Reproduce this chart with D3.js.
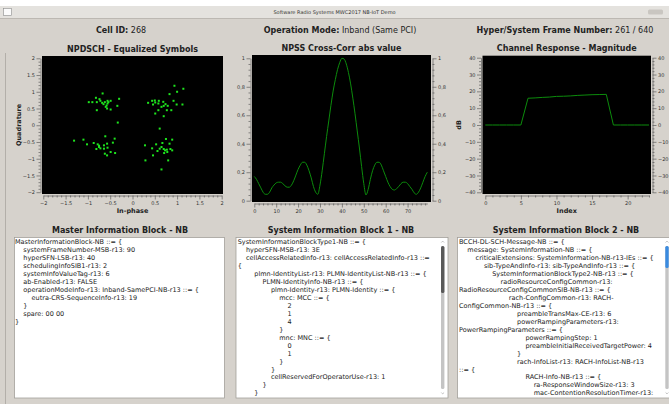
<!DOCTYPE html>
<html>
<head>
<meta charset="utf-8">
<script src="https://cdn.jsdelivr.net/npm/d3@7"></script>
<style>
body{margin:0;background:#d6d2cc;overflow:hidden;}
svg{display:block;font-family:"DejaVu Sans",sans-serif;}
</style>
</head>
<body>
<script>
// equalized NPDSCH symbols (in-phase / quadrature)
const symI = [-0.67,-0.82,-0.74,-0.98,-0.90,-0.80,-0.72,-0.68,-0.62,-0.56,-0.54,-0.49,-0.56,-0.58,-0.60,-0.57,-0.49,-0.30,-0.34,-0.80,-0.65,-0.33,
  0.94,1.14,1.00,0.83,0.35,0.44,0.50,0.51,0.59,0.58,0.69,0.74,0.79,0.70,0.92,0.99,1.12,0.65,0.51,0.58,0.77,0.87,0.70,0.46,0.61,
  -1.31,-1.10,-1.02,-0.87,-0.78,-0.75,-0.72,-0.81,-0.75,-0.61,-0.64,-0.57,-0.56,-0.40,-0.44,-0.49,-0.39,-0.62,-0.57,-0.64,
  0.28,0.44,0.53,0.46,0.29,0.67,0.75,0.89,0.83,0.61,0.65,0.70,0.73,0.77,0.85,0.89,0.78,0.71,0.80,0.65,0.56];
const symQ = [0.95,0.82,0.78,0.69,0.69,0.69,0.73,0.67,0.69,0.73,0.69,0.73,0.65,0.59,0.55,0.50,0.47,0.79,0.58,0.45,0.63,0.08,
  1.18,1.09,1.00,0.93,0.67,0.73,0.74,0.68,0.73,0.65,0.70,0.63,0.58,0.58,0.73,0.62,0.62,0.55,0.35,0.45,0.45,0.45,0.27,0.62,-0.10,
  -0.46,-0.43,-0.57,-0.53,-0.57,-0.61,-0.69,-0.71,-0.65,-0.33,-0.60,-0.55,-0.67,-0.40,-0.52,-0.80,-0.83,-0.85,-0.90,-0.70,
  -0.60,-0.69,-0.57,-0.90,-1.05,-0.53,-0.41,-0.43,-0.55,-0.70,-0.65,-0.71,-0.75,-0.73,-0.71,-0.75,-0.80,-0.83,-1.05,-1.32,-0.77];

// NPSS cross-correlation, one value per lag 0..79
const npssCorr = [0.17,0.15,0.12,0.09,0.06,0.045,0.045,0.06,0.09,0.11,
  0.125,0.13,0.13,0.12,0.105,0.095,0.095,0.11,0.14,0.18,
  0.22,0.25,0.27,0.27,0.25,0.21,0.16,0.10,0.06,0.045,
  0.11,0.21,0.33,0.45,0.56,0.67,0.77,0.85,0.92,0.97,
  1.0,0.995,0.96,0.90,0.82,0.72,0.61,0.49,0.37,0.24,
  0.12,0.04,0.08,0.15,0.21,0.25,0.27,0.27,0.25,0.21,
  0.17,0.13,0.10,0.08,0.075,0.085,0.10,0.12,0.13,0.13,
  0.12,0.10,0.08,0.055,0.045,0.06,0.09,0.13,0.17,0.20];

// channel magnitude in dB, per subcarrier index 0..23
const chanMag = [0,0,0,0,0,0,15.9,16.1,16.4,16.6,17.0,17.1,17.3,17.6,17.8,18.0,18.1,18.2,0,0,0,0,0,0];

const iqTicks = [-2,-1.5,-1,-0.5,0,0.5,1,1.5,2];
const corrYTicks = [0,0.2,0.4,0.6,0.8,1];
const corrXTicks = [0,10,20,30,40,50,60,70];
const magYTicks = [-40,-30,-20,-10,0,10,20,30,40];
const magXTicks = [0,5,10,15,20];

const headerBold = ["Cell ID:", "Operation Mode:", "Hyper/System Frame Number:"];
const headerValue = ["268", "Inband (Same PCI)", "261 / 640"];

const mibLines = [
  [0,"MasterInformationBlock-NB ::= {"],
  [1,"systemFrameNumber-MSB-r13: 90"],
  [1,"hyperSFN-LSB-r13: 40"],
  [1,"schedulingInfoSIB1-r13: 2"],
  [1,"systemInfoValueTag-r13: 6"],
  [1,"ab-Enabled-r13: FALSE"],
  [1,"operationModeInfo-r13: Inband-SamePCI-NB-r13 ::= {"],
  [2,"eutra-CRS-SequenceInfo-r13: 19"],
  [1,"}"],
  [1,"spare: 00 00"],
  [0,"}"]
];
const sib1Lines = [
  [0,"SystemInformationBlockType1-NB ::= {"],
  [1,"hyperSFN-MSB-r13: 3E"],
  [1,"cellAccessRelatedInfo-r13: cellAccessRelatedInfo-r13 ::="],
  [0,"{"],
  [2,"plmn-IdentityList-r13: PLMN-IdentityList-NB-r13 ::= {"],
  [3,"PLMN-IdentityInfo-NB-r13 ::= {"],
  [4,"plmn-Identity-r13: PLMN-Identity ::= {"],
  [5,"mcc: MCC ::= {"],
  [6,"2"],[6,"1"],[6,"4"],
  [5,"}"],
  [5,"mnc: MNC ::= {"],
  [6,"0"],[6,"1"],
  [5,"}"],
  [4,"}"],
  [4,"cellReservedForOperatorUse-r13: 1"],
  [3,"}"],
  [2,"}"]
];
const sib2Lines = [
  [0,"BCCH-DL-SCH-Message-NB ::= {"],
  [1,"message: SystemInformation-NB ::= {"],
  [2,"criticalExtensions: SystemInformation-NB-r13-IEs ::= {"],
  [3,"sib-TypeAndInfo-r13: sib-TypeAndInfo-r13 ::= {"],
  [4,"SystemInformationBlockType2-NB-r13 ::= {"],
  [5,"radioResourceConfigCommon-r13:"],
  [0,"RadioResourceConfigCommonSIB-NB-r13 ::= {"],
  [6,"rach-ConfigCommon-r13: RACH-"],
  [0,"ConfigCommon-NB-r13 ::= {"],
  [7,"preambleTransMax-CE-r13: 6"],
  [7,"powerRampingParameters-r13:"],
  [0,"PowerRampingParameters ::= {"],
  [8,"powerRampingStep: 1"],
  [8,"preambleInitialReceivedTargetPower: 4"],
  [7,"}"],
  [7,"rach-InfoList-r13: RACH-InfoList-NB-r13"],
  [0,"::= {"],
  [8,"RACH-Info-NB-r13 ::= {"],
  [9,"ra-ResponseWindowSize-r13: 3"],
  [9,"mac-ContentionResolutionTimer-r13:"]
];

const W = 669, H = 404;
const svg = d3.select("body").append("svg").attr("width", W).attr("height", H);

svg.append("rect").attr("width", W).attr("height", H).attr("fill", "#d6d2cc");

// window title bar
svg.append("rect").attr("width", W).attr("height", 6).attr("fill", "#fff");
svg.append("rect").attr("y", 6).attr("width", W).attr("height", 12).attr("fill", "#e4e2de");
svg.append("line").attr("x1", 0).attr("x2", W).attr("y1", 18.5).attr("y2", 18.5).attr("stroke", "#bcb8b2");
svg.append("rect").attr("x", 3.5).attr("y", 8.5).attr("width", 8).attr("height", 7)
  .attr("fill", "#fbfbfb").attr("stroke", "#8a8a8a").attr("stroke-width", 0.6);
svg.append("rect").attr("x", 648).attr("y", 9.5).attr("width", 15).attr("height", 5).attr("rx", 1.5)
  .attr("fill", "#c9c6c1");
svg.append("text").attr("x", 334.5).attr("y", 14).attr("text-anchor", "middle")
  .attr("font-size", 5).attr("fill", "#333").text("Software Radio Systems MWC2017 NB-IoT Demo");

// left frame edge
svg.append("line").attr("x1", 5.5).attr("x2", 5.5).attr("y1", 53).attr("y2", H).attr("stroke", "#b3afa9");

// header row
const headerX = [121, 340, 565];
headerBold.forEach((b, i) => {
  const t = svg.append("text").attr("x", headerX[i]).attr("y", 32.5).attr("text-anchor", "middle")
    .attr("font-size", 8).attr("fill", "#222");
  t.append("tspan").attr("font-weight", "bold").text(b);
  t.append("tspan").text(" " + headerValue[i]);
});

function styleAxis(sel) {
  sel.attr("font-size", 5).attr("font-family", "DejaVu Sans, sans-serif");
  sel.selectAll("path, line").attr("stroke", "#4a4a4a").attr("stroke-width", 0.6);
  sel.selectAll("text").attr("fill", "#333");
}

function minorTicks(major, step) {
  const out = [];
  for (let i = 0; i < major.length - 1; i++) {
    for (let k = 1; k < 5; k++) out.push(+(major[i] + k * step).toFixed(4));
  }
  return out;
}

function drawPlot(o) {
  const g = svg.append("g");
  g.append("rect").attr("x", o.cx0).attr("y", o.cy0)
    .attr("width", o.cx1 - o.cx0).attr("height", o.cy1 - o.cy0).attr("fill", "#000");
  g.append("text").attr("x", (o.cx0 + o.cx1) / 2).attr("y", o.cy0 - 4.5).attr("text-anchor", "middle")
    .attr("font-size", 8).attr("font-weight", "bold").attr("fill", "#222").text(o.title);

  const yMinor = o.yMinor, xMinor = o.xMinor;
  // left
  g.append("g").attr("transform", `translate(${o.cx0 - 1.5},0)`)
    .call(d3.axisLeft(o.y).tickValues(o.yTicks).tickSize(4).tickSizeOuter(0).tickPadding(1.5).tickFormat(o.yFmt))
    .call(styleAxis);
  g.append("g").attr("transform", `translate(${o.cx0 - 1.5},0)`)
    .call(d3.axisLeft(o.y).tickValues(yMinor).tickSize(2).tickSizeOuter(0).tickFormat(""))
    .call(styleAxis).select(".domain").remove();
  if (o.right) {
    g.append("g").attr("transform", `translate(${o.cx1 + 1.5},0)`)
      .call(d3.axisRight(o.y).tickValues(o.yTicks).tickSize(4).tickSizeOuter(0).tickPadding(1.5).tickFormat(o.yFmt))
      .call(styleAxis);
    g.append("g").attr("transform", `translate(${o.cx1 + 1.5},0)`)
      .call(d3.axisRight(o.y).tickValues(yMinor).tickSize(2).tickSizeOuter(0).tickFormat(""))
      .call(styleAxis).select(".domain").remove();
  }
  g.append("g").attr("transform", `translate(0,${o.cy1 + 1.5})`)
    .call(d3.axisBottom(o.x).tickValues(o.xTicks).tickSize(4).tickSizeOuter(0).tickPadding(1.5).tickFormat(o.xFmt))
    .call(styleAxis);
  g.append("g").attr("transform", `translate(0,${o.cy1 + 1.5})`)
    .call(d3.axisBottom(o.x).tickValues(xMinor).tickSize(2).tickSizeOuter(0).tickFormat(""))
    .call(styleAxis).select(".domain").remove();

  if (o.xLabel) {
    g.append("text").attr("x", (o.cx0 + o.cx1) / 2).attr("y", o.cy1 + 18.5).attr("text-anchor", "middle")
      .attr("font-size", 6.5).attr("font-weight", "bold").attr("fill", "#222").text(o.xLabel);
  }
  if (o.yLabel) {
    g.append("text").attr("transform", `translate(${o.yLabelX},${(o.cy0 + o.cy1) / 2}) rotate(-90)`)
      .attr("text-anchor", "middle").attr("dy", "0.35em")
      .attr("font-size", 6.5).attr("font-weight", "bold").attr("fill", "#222").text(o.yLabel);
  }
  return g;
}

const dot = d3.format(".1~f");
const comma = v => d3.format(".1~f")(v).replace(".", ",");

// constellation
const xIQ = d3.scaleLinear().domain([-2, 2]).range([43.3, 221.7]);
const yIQ = d3.scaleLinear().domain([-2, 2]).range([192.2, 58.3]);
const g1 = drawPlot({
  cx0: 42, cx1: 223, cy0: 56, cy1: 194, x: xIQ, y: yIQ,
  xTicks: iqTicks, yTicks: iqTicks, xMinor: minorTicks(iqTicks, 0.1), yMinor: minorTicks(iqTicks, 0.1),
  xFmt: dot, yFmt: dot, title: "NPDSCH - Equalized Symbols",
  xLabel: "In-phase", yLabel: "Quadrature", yLabelX: 19
});
g1.append("g").selectAll("rect").data(symI).join("rect")
  .attr("x", (d, i) => xIQ(d) - 1).attr("y", (d, i) => yIQ(symQ[i]) - 1)
  .attr("width", 2).attr("height", 2).attr("fill", "#1ee41e");

// NPSS cross-correlation
const xCorr = d3.scaleLinear().domain([0, 79]).range([254.3, 427.3]);
const yCorr = d3.scaleLinear().domain([0, 1]).range([200.7, 58.3]);
const g2 = drawPlot({
  cx0: 252, cx1: 431, cy0: 55, cy1: 202, x: xCorr, y: yCorr, right: true,
  xTicks: corrXTicks, yTicks: corrYTicks,
  xMinor: minorTicks(corrXTicks.concat([80]), 2).filter(v => v <= 79),
  yMinor: minorTicks(corrYTicks, 0.04),
  xFmt: d3.format("d"), yFmt: comma, title: "NPSS Cross-Corr abs value"
});
g2.append("path").datum(npssCorr)
  .attr("d", d3.line().x((d, i) => xCorr(i)).y(d => yCorr(d)).curve(d3.curveMonotoneX))
  .attr("fill", "none").attr("stroke", "#0c8c0c").attr("stroke-width", 1);

// channel response
const xMag = d3.scaleLinear().domain([0, 23]).range([485.3, 649]);
const yMag = d3.scaleLinear().domain([-40, 40]).range([192.3, 57.7]);
const g3 = drawPlot({
  cx0: 482.5, cx1: 651, cy0: 55.7, cy1: 194, x: xMag, y: yMag, right: true,
  xTicks: magXTicks, yTicks: magYTicks,
  xMinor: minorTicks(magXTicks.concat([25]), 1).filter(v => v <= 23),
  yMinor: minorTicks(magYTicks, 2),
  xFmt: d3.format("d"), yFmt: d3.format("d"), title: "Channel Response - Magnitude",
  xLabel: "Index", yLabel: "dB", yLabelX: 459
});
g3.append("path").datum(chanMag)
  .attr("d", d3.line().x((d, i) => xMag(i)).y(d => yMag(d)))
  .attr("fill", "none").attr("stroke", "#0c8c0c").attr("stroke-width", 1);

// text panels
function textPanel(o) {
  svg.append("text").attr("x", o.cx).attr("y", 233).attr("text-anchor", "middle")
    .attr("font-size", 8).attr("font-weight", "bold").attr("fill", "#222").text(o.title);
  svg.append("rect").attr("x", o.x0 + 0.5).attr("y", 237.5).attr("width", o.x1 - o.x0).attr("height", 160.5)
    .attr("fill", "#fff").attr("stroke", "#a3a09b").attr("stroke-width", 0.8);
  svg.append("g").selectAll("text").data(o.lines).join("text")
    .attr("x", d => o.tx + d[0] * 8.3).attr("y", (d, i) => 244.3 + i * 7.95)
    .attr("font-size", 6.5).attr("fill", "#1a1a1a").text(d => d[1]);
  if (o.scroll) {
    const s = o.scroll;
    svg.append("rect").attr("x", s.x).attr("y", 246).attr("width", 3.4).attr("height", 143)
      .attr("rx", 1.6).attr("fill", "#c4c4c4");
    svg.append("rect").attr("x", s.x).attr("y", 246).attr("width", 3.4).attr("height", s.h)
      .attr("rx", 1.6).attr("fill", s.color);
    svg.append("path").attr("d", `M${s.x + 0.3},242.5 l1.4,-1.4 l1.4,1.4 M${s.x + 0.3},392.5 l1.4,1.4 l1.4,-1.4`)
      .attr("fill", "none").attr("stroke", "#9a9a9a").attr("stroke-width", 0.6);
  }
}
textPanel({ title: "Master Information Block - NB", cx: 120, x0: 14, x1: 224, tx: 15, lines: mibLines });
textPanel({ title: "System Information Block 1 - NB", cx: 341, x0: 235.5, x1: 447.5, tx: 237.7, lines: sib1Lines,
  scroll: { x: 441, h: 47, color: "#595959" } });
textPanel({ title: "System Information Block 2 - NB", cx: 566, x0: 457, x1: 675, tx: 459, lines: sib2Lines,
  scroll: { x: 665.3, h: 22, color: "#3a8be0" } });
</script>
</body>
</html>
